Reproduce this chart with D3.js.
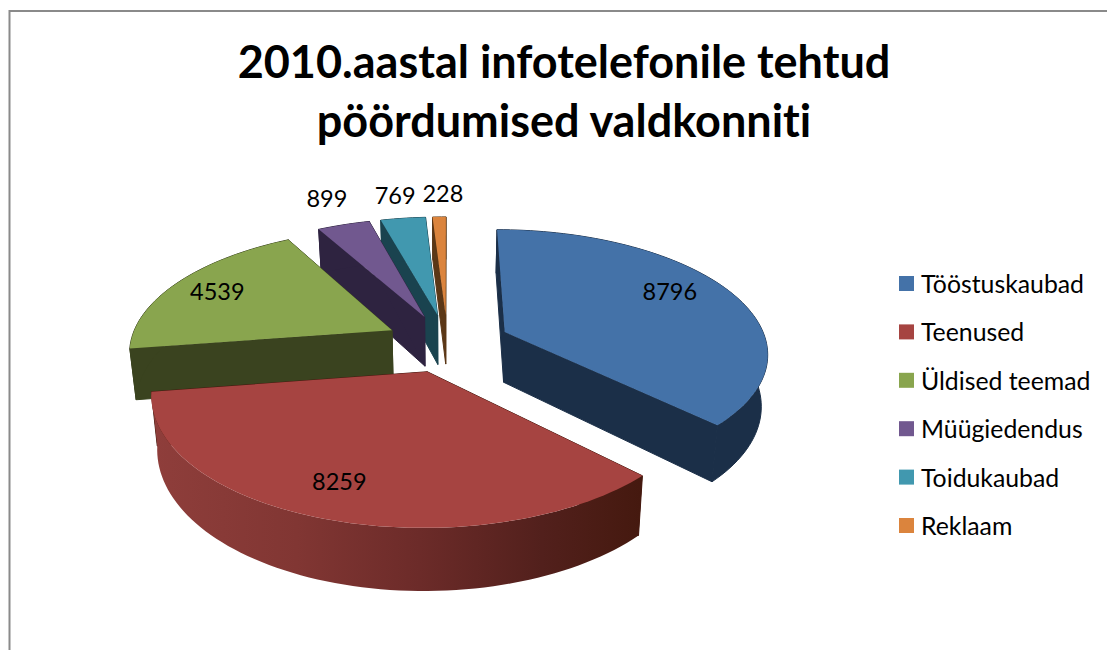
<!DOCTYPE html>
<html lang="et">
<head>
    <meta charset="UTF-8">
    <title>Infotelefoni pöördumised 2010</title>
    <style>
        html, body { margin: 0; padding: 0; background: #fff; overflow: hidden; }
        text { font-family: Lato, sans-serif; fill: #000; font-variant-ligatures: none; }
    </style>
</head>
<body>
    <script src="https://cdn.jsdelivr.net/npm/d3@7/dist/d3.min.js"></script>
    <script>
        const titleLines = ["2010.aastal infotelefonile tehtud", "pöördumised valdkonniti"];
        const categories = ["Tööstuskaubad", "Teenused", "Üldised teemad", "Müügiedendus", "Toidukaubad", "Reklaam"];
        const values = [8796, 8259, 4539, 899, 769, 228];
        const topColors = ["#4472a8", "#a64441", "#89a54e", "#71588f", "#4198af", "#db843d"];
        const wallColors = ["#1b2f48", "#45190f", "#3a431f", "#2e2340", "#1a434f", "#5b3716"];
        const labelDist = [0.78, 0.785, 0.81, 1.33, 1.29, 1.29];
        const labelTurn = [-5.5, 2.5, 0, 1.2, 0.1, 1.1];
        const drawOrder = [5, 4, 3, 0, 2, 1];

        const width = 1107, height = 650;
        const svg = d3.select("body").append("svg")
            .attr("width", width)
            .attr("height", height);

        // cadre
        svg.append("path")
            .attr("d", `M9.5,${height}V11H${width}`)
            .attr("fill", "none")
            .attr("stroke", "#8a8a8a")
            .attr("stroke-width", 2);

        // titre
        svg.selectAll(".title").data(titleLines).join("text")
            .attr("class", "title")
            .attr("x", 564)
            .attr("y", (d, i) => 78 + i * 59)
            .attr("text-anchor", "middle")
            .attr("font-weight", 700)
            .style("font-size", "45px")
            .text(d => d);

        // projection en perspective du plan du camembert
        const cx = 447.5, cy = 343, rx = 262, ry = 121.5, persp = 0.157;
        const explode = 0.24, depth = 51;
        function project(u, v, z) {
            const w = 1 + persp * v;
            return [
                cx + rx * u / w * (1 - 0.02 * z),
                cy - ry * v / w + z * depth / w
            ];
        }

        const pie = d3.pie().sort(null).value(d => d);
        const arcs = pie(values);
        const lineGen = d3.line();

        function slicePoint(d, a, r, z) {
            const mid = (d.startAngle + d.endAngle) / 2;
            const u = explode * Math.sin(mid) + r * Math.sin(a);
            const v = explode * Math.cos(mid) + r * Math.cos(a);
            return project(u, v, z);
        }
        function arcPoints(d, z) {
            const n = Math.max(2, Math.ceil((d.endAngle - d.startAngle) / 0.03));
            return d3.range(n + 1).map(i => slicePoint(d, d.startAngle + (d.endAngle - d.startAngle) * i / n, 1, z));
        }

        const defs = svg.append("defs");
        const grad = defs.append("linearGradient")
            .attr("id", "redWall")
            .attr("gradientUnits", "userSpaceOnUse")
            .attr("x1", 150).attr("x2", 640).attr("y1", 0).attr("y2", 0);
        grad.selectAll("stop")
            .data([[0, "#8f3e3b"], [0.3, "#813633"], [0.55, "#6c2b29"], [0.8, "#52201c"], [1, "#45190f"]])
            .join("stop")
            .attr("offset", d => d[0])
            .attr("stop-color", d => d[1]);

        const pieG = svg.append("g");
        drawOrder.forEach(i => {
            const d = arcs[i];
            const g = pieG.append("g");
            // faces de coupe
            [d.startAngle, d.endAngle].forEach(a => {
                const pts = [slicePoint(d, a, 0, 0), slicePoint(d, a, 1, 0), slicePoint(d, a, 1, 1), slicePoint(d, a, 0, 1)];
                g.append("path")
                    .attr("d", lineGen(pts) + "Z")
                    .attr("fill", wallColors[i])
                    .attr("stroke", wallColors[i])
                    .attr("stroke-width", 1);
            });
            // bord extérieur
            const wall = arcPoints(d, 0).concat(arcPoints(d, 1).reverse());
            g.append("path")
                .attr("d", lineGen(wall) + "Z")
                .attr("fill", i === 1 ? "url(#redWall)" : wallColors[i])
                .attr("stroke", i === 1 ? "none" : wallColors[i])
                .attr("stroke-width", 1);
            // dessus
            const top = [slicePoint(d, 0, 0, 0)].concat(arcPoints(d, 0));
            g.append("path")
                .attr("d", lineGen(top) + "Z")
                .attr("fill", topColors[i]);
        });

        // étiquettes de valeurs
        svg.selectAll(".value").data(arcs).join("text")
            .attr("class", "value")
            .attr("text-anchor", "middle")
            .attr("dominant-baseline", "central")
            .style("font-size", "23.5px")
            .attr("transform", (d, i) => {
                const a = (d.startAngle + d.endAngle) / 2 + labelTurn[i] * Math.PI / 180;
                const p = slicePoint(d, a, labelDist[i], 0);
                return `translate(${p[0]},${p[1]})`;
            })
            .text(d => d.data);

        // légende
        const legendY = d3.scalePoint().domain(categories).range([283.5, 525.5]);
        const legend = svg.selectAll(".legend").data(categories).join("g")
            .attr("class", "legend")
            .attr("transform", d => `translate(899,${legendY(d)})`);
        legend.append("rect")
            .attr("y", -7.5)
            .attr("width", 15)
            .attr("height", 15)
            .attr("fill", (d, i) => topColors[i]);
        legend.append("text")
            .attr("x", 22)
            .attr("dominant-baseline", "central")
            .style("font-size", "24.8px")
            .text(d => d);
    </script>
</body>
</html>
